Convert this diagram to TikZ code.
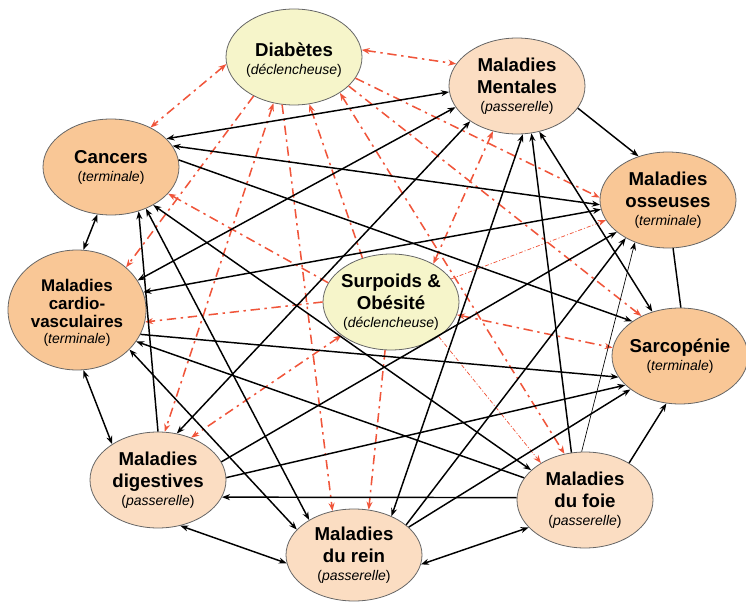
\documentclass[tikz,border=0pt]{standalone}
\usepackage{fontspec}
\setmainfont{Liberation Sans}
\usetikzlibrary{shapes.geometric,arrows.meta}
\definecolor{trigfill}{HTML}{F6F5CA}
\definecolor{termfill}{HTML}{F9C796}
\definecolor{passfill}{HTML}{FBDDC2}
\definecolor{redline}{HTML}{F0553A}
\newcommand{\nodetype}[1]{{\fontsize{10.5}{12}\selectfont\mdseries(\textit{#1})}}

\begin{document}
\begin{tikzpicture}[x=0.75pt, y=-0.75pt,
	>={Stealth[length=6pt,width=4.5pt]},
	dis/.style={ellipse, draw=black!60, line width=0.6pt, minimum width=102pt, minimum height=72pt, inner sep=0pt},
	trig/.style={dis, fill=trigfill},
	term/.style={dis, fill=termfill},
	pass/.style={dis, fill=passfill},
	txt/.style={align=center, font=\fontsize{14}{16.5}\selectfont\bfseries},
	txts/.style={align=center, font=\fontsize{12.7}{13.5}\selectfont\bfseries},
	blk/.style={line width=1.1pt},
	thinblk/.style={line width=0.5pt},
	redl/.style={draw=redline, line width=1.15pt, dash pattern=on 7pt off 3.5pt on 1.8pt off 3.5pt},
	thinred/.style={draw=redline, line width=0.55pt, dash pattern=on 3pt off 1.5pt on 0.8pt off 1.5pt}]
	\useasboundingbox (0,0) rectangle (746,602);
	%
	\node [trig, label={[txt, yshift=-2pt]center:{Diabètes\\[-3pt] \nodetype{déclencheuse}}}] (diab) at (294,57) {};
	\node [pass, label={[txt]center:{Maladies\\ Mentales\\[-3pt] \nodetype{passerelle}}}] (ment) at (517,86) {};
	\node [term, label={[txt]center:{Cancers\\[-3pt] \nodetype{terminale}}}] (canc) at (111,167) {};
	\node [term, label={[txt]center:{Maladies\\ osseuses\\[-3pt] \nodetype{terminale}}}] (oss) at (668,200) {};
	\node [term, minimum width=103.5pt, minimum height=90pt, label={[txts, yshift=-2pt]center:{Maladies\\ cardio-\\ vasculaires\\[-1pt] \nodetype{terminale}}}] (cardio) at (77,310) {};
	\node [trig, label={[txt]center:{Surpoids \&\\ Obésité\\[-3pt] \nodetype{déclencheuse}}}] (surp) at (391,302) {};
	\node [term, label={[txt]center:{Sarcopénie\\[-3pt] \nodetype{terminale}}}] (sarco) at (680,356) {};
	\node [pass, label={[txt]center:{Maladies\\ digestives\\[-3pt] \nodetype{passerelle}}}] (dig) at (158,480) {};
	\node [pass, minimum height=69pt, label={[txt]center:{Maladies\\ du rein\\[-3pt] \nodetype{passerelle}}}] (rein) at (354,555) {};
	\node [pass, label={[txt]center:{Maladies\\ du foie\\[-3pt] \nodetype{passerelle}}}] (foie) at (585,500) {};
	%
	\draw [redl, <->] (diab.6) -- (ment.160);
	\draw [redl, <->] (diab.186) -- (canc.45);
	\draw [redl, ->] (diab.224) -- (cardio.41);
	\draw [redl, <->] (diab.246) -- (dig.82);
	\draw [redl, ->] (diab.256) -- (rein.116);
	\draw [redl, ->] (surp.123) -- (diab.288);
	\draw [redl, <->] (diab.322) -- (foie.114);
	\draw [redl, ->] (diab.341) -- (oss.178);
	\draw [redl, ->] (diab.332) -- (sarco.134);
	%
	\draw [redl, <->] (surp.42) -- (ment.242);
	\draw [redl, ->] (surp.163) -- (canc.335);
	\draw [redl, ->] (surp.180) -- (cardio.350);
	\draw [redl, <->] (surp.214) -- (dig.52);
	\draw [redl, ->] (surp.263) -- (rein.72);
	\draw [thinred, ->] (surp.324) -- (foie.140);
	\draw [redl, <->] (surp.349) -- (sarco.173);
	\draw [thinred, ->] (surp.21) -- (oss.198);
	%
	\draw [blk, <->] (canc.254) -- (cardio.84);
	\draw [blk, <->] (canc.27) -- (ment.185);
	\draw [blk, <->] (canc.19) -- (oss.184);
	\draw [blk, ->] (canc.6) -- (sarco.144);
	\draw [blk, ->] (dig.90) -- (canc.302);
	\draw [blk, <->] (canc.310) -- (rein.142);
	\draw [blk, <->] (canc.318) -- (foie.151);
	\draw [blk, <->] (cardio.276) -- (dig.142);
	\draw [blk, <->] (cardio.26) -- (ment.199);
	\draw [blk, <->] (cardio.15) -- (oss.188);
	\draw [blk, ->] (cardio.339) -- (sarco.199);
	\draw [blk, <->] (cardio.323) -- (rein.156);
	\draw [blk, ->] (foie.160) -- (cardio.332);
	\draw [blk, <->] (dig.296) -- (rein.187);
	\draw [blk, ->] (foie.178) -- (dig.345);
	\draw [blk, <->] (dig.68) -- (ment.217);
	\draw [blk, ->] (dig.16) -- (oss.212);
	\draw [blk, ->] (dig.2) -- (sarco.208);
	\draw [blk, <->] (rein.352) -- (foie.206);
	\draw [blk, <->] (ment.277) -- (rein.46);
	\draw [blk, ->] (rein.30) -- (oss.222);
	\draw [blk, ->] (rein.27) -- (sarco.214);
	\draw [blk, ->] (foie.106) -- (ment.287);
	\draw [thinblk, ->] (foie.94) -- (oss.232);
	\draw [blk, ->] (foie.40) -- (sarco.254);
	\draw [blk, <->] (ment.296) -- (sarco.122);
	\draw [blk, ->] (ment.340) -- (oss.124);
	\draw [blk] (oss.276) -- (sarco.89);
\end{tikzpicture}
\end{document}
